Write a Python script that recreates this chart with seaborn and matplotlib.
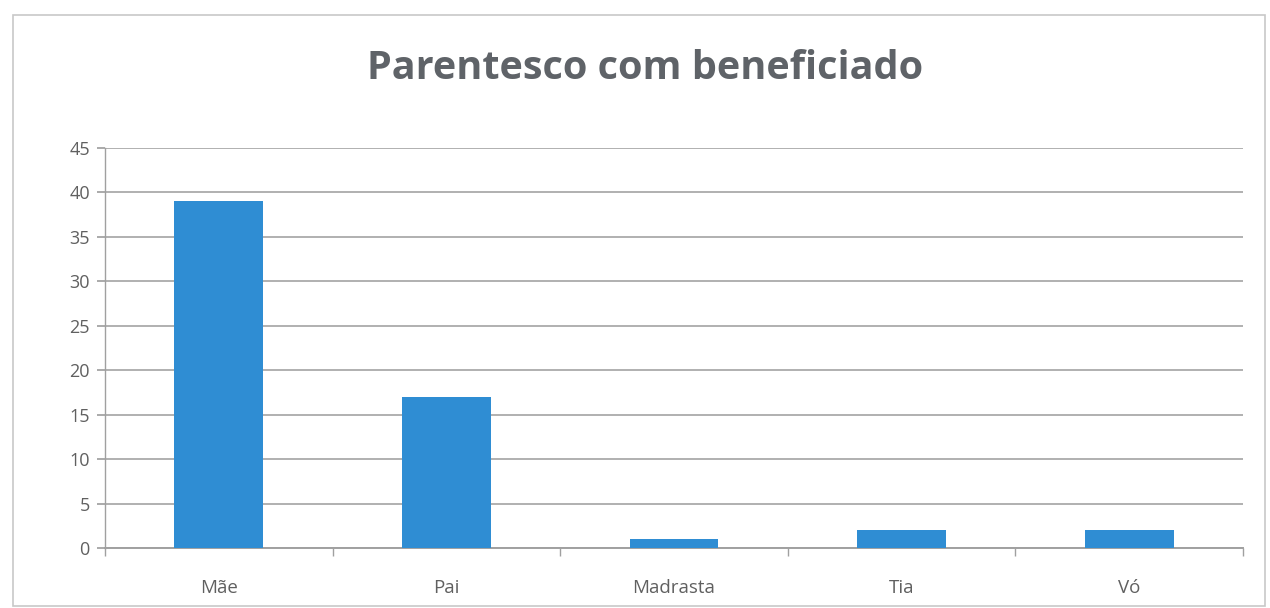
import matplotlib
matplotlib.use("Agg")
import matplotlib.pyplot as plt
import seaborn as sns
import pandas as pd
from matplotlib.patches import Rectangle

categories = ["Mãe", "Pai", "Madrasta", "Tia", "Vó"]
values = [39, 17, 1, 2, 2]
yticks = [0, 5, 10, 15, 20, 25, 30, 35, 40, 45]

sns.set_theme(style="white")
plt.rcParams['font.family'] = ['Open Sans', 'DejaVu Sans']

df = pd.DataFrame({"cat": categories, "val": values})

fig = plt.figure(figsize=(12.7, 6.08), dpi=100)
ax = fig.add_axes([0.0827, 0.0987, 0.896, 0.658])

sns.barplot(data=df, x="cat", y="val", ax=ax, color="#2F8DD3", width=0.39,
            saturation=1, zorder=3, linewidth=0)

ax.set_ylim(0, 45)
ax.set_yticks(yticks)
ax.set_xlim(-0.5, len(categories) - 0.5)
ax.yaxis.grid(True, color="#B0B0B0", linewidth=1.4, zorder=0)
ax.set_axisbelow(True)
for s in ["top", "right"]:
    ax.spines[s].set_visible(False)
ax.spines["left"].set_color("#A0A0A0")
ax.spines["bottom"].set_color("#A0A0A0")
ax.spines["left"].set_linewidth(1.0)
ax.spines["bottom"].set_linewidth(1.4)
ax.tick_params(axis="y", which="major", left=True, length=6, color="#A0A0A0",
               labelsize=13, labelcolor="#606060", pad=5)
ax.tick_params(axis="x", which="major", bottom=False, labelsize=13.5,
               labelcolor="#606060", pad=16)
ax.set_xticks(range(len(categories)))
ax.set_xticks([i + 0.5 for i in range(-1, len(categories))], minor=True)
ax.tick_params(axis="x", which="minor", bottom=True, length=6, color="#A0A0A0")
ax.set_xlabel("")
ax.set_ylabel("")

fig.text(0.508, 0.888, "Parentesco com beneficiado", ha="center", va="center",
         fontsize=28.5, fontweight="bold", color="#5F6368")

fig.patches.append(Rectangle((0.010, 0.003), 0.986, 0.972, transform=fig.transFigure,
                             fill=False, edgecolor="#C8C8C8", linewidth=1.2))

fig.savefig("out.png", dpi=100, facecolor="white")
